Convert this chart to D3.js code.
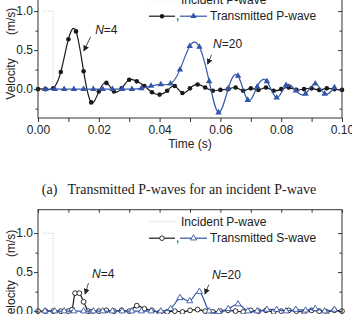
<!DOCTYPE html>
<html>
<head>
<meta charset="utf-8">
<script src="https://cdn.jsdelivr.net/npm/d3@7"></script>
<style>
body { margin: 0; background: #fff; }
svg { display: block; }
text { font-family: "Liberation Sans", Arial, sans-serif; fill: #222; }
</style>
</head>
<body>
<div id="chart"></div>
<script>
// ---- data ----
var xTicks = [0, 0.02, 0.04, 0.06, 0.08, 0.10];
var xMinor = [0.01, 0.03, 0.05, 0.07, 0.09];
var yTicks = [0.0, 0.5, 1.0];
var yMinor = [-0.25, 0.25, 0.75];

var incidentT = [0.0017, 0.005, 0.005];
var incidentV = [1.0, 1.0, 0.0];

// (a) transmitted P-wave, N=4 (black) and N=20 (blue)
var pBlackT = [0, 0.0025, 0.005, 0.0075, 0.01, 0.0125, 0.015, 0.0175, 0.02, 0.0225,
               0.025, 0.0275, 0.03, 0.0325, 0.035, 0.0375, 0.04, 0.0425, 0.045, 0.0475,
               0.05, 0.0525, 0.055, 0.0575, 0.06, 0.0625, 0.065, 0.0675, 0.07, 0.0725,
               0.075, 0.0775, 0.08, 0.0825, 0.085, 0.0875, 0.09, 0.0925, 0.095, 0.0975, 0.1];
var pBlackV = [0, 0, 0.01, 0.22, 0.64, 0.74, 0.23, -0.17, -0.03, 0.08,
               -0.03, 0.01, 0.12, 0.10, 0.04, -0.04, -0.07, -0.02, 0.04, -0.05,
               0.01, 0.06, 0.02, -0.02, -0.01, 0.0, 0.02, -0.02, 0.01, -0.01,
               0.02, -0.02, 0.0, 0.02, -0.01, 0.0, 0.01, -0.01, 0.01, 0.0, -0.01];

var pBlueT = [0.0023, 0.0055, 0.0086, 0.0118, 0.0150, 0.0182, 0.0213, 0.0245, 0.0277, 0.0309,
              0.0340, 0.0372, 0.0404, 0.0436, 0.0467, 0.0499, 0.0531, 0.0563, 0.0594, 0.0626,
              0.0658, 0.0690, 0.0721, 0.0753, 0.0785, 0.0816, 0.0848, 0.0880, 0.0912, 0.0943, 0.0975];
var pBlueV = [0, 0, 0, 0, 0, 0, 0, 0, 0, 0,
              0.01, 0.04, 0.06, 0.07, 0.25, 0.55, 0.54, 0.10, -0.30, 0.01,
              0.17, -0.14, 0.03, 0.10, -0.11, 0.05, -0.02, -0.06, 0.07, -0.06, 0.02];

// (b) transmitted S-wave
var sBlackT = [0, 0.0025, 0.005, 0.0075, 0.01, 0.0112, 0.0122, 0.0136, 0.015, 0.0165,
               0.0175, 0.02, 0.0225, 0.025, 0.0275, 0.03, 0.0325, 0.035, 0.0375, 0.04,
               0.0425, 0.045, 0.0475, 0.05, 0.0525, 0.055, 0.0575, 0.06, 0.0625, 0.065,
               0.0675, 0.07, 0.0725, 0.075, 0.0775, 0.08, 0.0825, 0.085, 0.0875, 0.09,
               0.0925, 0.095, 0.0975, 0.1];
var sBlackV = [0, 0, 0, 0, 0, 0.02, 0.23, 0.23, 0.12, 0.0,
               -0.01, 0, 0.01, 0.0, 0.01, 0.0, 0.07, 0.03, 0.01, -0.02,
               -0.01, 0.0, -0.01, 0.01, 0.02, 0.0, -0.01, 0.0, 0.01, 0.0,
               -0.01, 0.01, 0.0, 0.01, -0.01, 0.0, 0.01, 0.0, -0.01, 0.01,
               0.0, -0.01, 0.01, 0.0];

var sBlueT = pBlueT;
var sBlueV = [0, 0, 0, 0, 0, 0, 0, 0, 0, 0,
              0, 0, 0, 0.03, 0.17, 0.13, 0.25, 0.0, -0.01, 0.03,
              0.09, 0.0, 0.0, 0.02, 0.02, 0.0, 0.02, 0.01, 0.03, 0.0, 0.02];

var blue = "#3456a8";
var dark = "#1a1a1a";

var svg = d3.select("#chart").append("svg")
    .attr("width", 352)
    .attr("height", 314);

var defs = svg.append("defs");
defs.append("marker")
    .attr("id", "arrow")
    .attr("viewBox", "0 0 8 8")
    .attr("refX", 7).attr("refY", 4)
    .attr("markerWidth", 6).attr("markerHeight", 6)
    .attr("markerUnits", "userSpaceOnUse")
    .attr("orient", "auto")
  .append("path")
    .attr("d", "M0,0L8,4L0,8z")
    .attr("fill", "#222");

var x = d3.scaleLinear().domain([0, 0.1]).range([38, 342]);

function zip(t, v) { return t.map(function(d, i) { return [d, v[i]]; }); }

function panel(top, blackT, blackV, blueT, blueV, openMarkers, curve, legendText, notes) {
  var y = d3.scaleLinear().domain([-0.37, 1.3]).range([top + 130.3, top]);
  var g = svg.append("g");

  // incident pulse (dotted)
  var line = d3.line()
    .x(function(d) { return x(d[0]); })
    .y(function(d) { return y(d[1]); });
  g.append("path")
    .datum(zip(incidentT, incidentV))
    .attr("fill", "none")
    .attr("stroke", "#c4c4c4")
    .attr("stroke-width", 1)
    .attr("stroke-dasharray", "1,1.5")
    .attr("d", line);

  var smooth = d3.line()
    .x(function(d) { return x(d[0]); })
    .y(function(d) { return y(d[1]); })
    .curve(curve);

  var bk = zip(blackT, blackV), bl = zip(blueT, blueV);

  g.append("path").datum(bk)
    .attr("fill", "none").attr("stroke", dark).attr("stroke-width", 1.2)
    .attr("d", smooth);
  g.selectAll(".bdot").data(bk).enter().append("circle")
    .attr("cx", function(d) { return x(d[0]); })
    .attr("cy", function(d) { return y(d[1]); })
    .attr("r", openMarkers ? 2.4 : 2.3)
    .attr("fill", openMarkers ? "#fff" : dark)
    .attr("stroke", dark).attr("stroke-width", openMarkers ? 0.9 : 0);

  g.append("path").datum(bl)
    .attr("fill", "none").attr("stroke", blue).attr("stroke-width", 1.2)
    .attr("d", smooth);
  var tri = d3.symbol().type(d3.symbolTriangle).size(openMarkers ? 16 : 18);
  g.selectAll(".tri").data(bl).enter().append("path")
    .attr("d", tri)
    .attr("transform", function(d) { return "translate(" + x(d[0]) + "," + y(d[1]) + ")"; })
    .attr("fill", openMarkers ? "#fff" : blue)
    .attr("stroke", blue).attr("stroke-width", openMarkers ? 0.9 : 0);

  // frame
  g.append("rect")
    .attr("x", 38).attr("y", top)
    .attr("width", 304).attr("height", 130.3)
    .attr("fill", "none").attr("stroke", "#333").attr("stroke-width", 1);

  // axes
  var bottom = top + 130.3;
  g.append("g").attr("transform", "translate(0," + bottom + ")")
    .call(d3.axisBottom(x).tickValues(xTicks).tickSize(4).tickPadding(3).tickFormat(d3.format(".2f")));
  g.append("g").attr("transform", "translate(0," + bottom + ")")
    .call(d3.axisBottom(x).tickValues(xMinor).tickSize(4).tickFormat(""));
  g.append("g").attr("transform", "translate(0," + top + ")")
    .call(d3.axisBottom(x).tickValues(xTicks.concat(xMinor)).tickSize(3).tickFormat(""));
  g.append("g").attr("transform", "translate(38,0)")
    .call(d3.axisLeft(y).tickValues(yTicks).tickSize(4).tickPadding(1).tickFormat(d3.format(".1f")));
  g.append("g").attr("transform", "translate(38,0)")
    .call(d3.axisLeft(y).tickValues(yMinor).tickSize(2.5).tickFormat(""));
  g.append("g").attr("transform", "translate(342,0)")
    .call(d3.axisLeft(y).tickValues(yTicks).tickSize(4).tickFormat(""));
  g.append("g").attr("transform", "translate(342,0)")
    .call(d3.axisLeft(y).tickValues(yMinor).tickSize(2.5).tickFormat(""));
  g.selectAll(".domain").remove();
  g.selectAll(".tick line").attr("stroke", "#333");
  g.selectAll(".tick text").style("font-size", "12px").attr("fill", "#222")
    .style("font-family", "'Liberation Sans', Arial, sans-serif");

  // y label
  g.append("text")
    .attr("transform", "translate(15," + (top + 66) + ")rotate(-90)")
    .attr("text-anchor", "middle")
    .style("white-space", "pre")
    .style("font-size", "12px")
    .text("Velocity       (m/s)");

  // legend
  var l1 = top + 12, l2 = top + 28.5;
  g.append("line").attr("x1", 150).attr("x2", 177).attr("y1", l1).attr("y2", l1)
    .attr("stroke", "#c4c4c4").attr("stroke-dasharray", "1,1.5");
  g.append("text").attr("x", 181).attr("y", l1).attr("dy", "0.35em")
    .style("font-size", "12px").text("Incident P-wave");
  g.append("line").attr("x1", 149).attr("x2", 175).attr("y1", l2).attr("y2", l2)
    .attr("stroke", dark).attr("stroke-width", 1.2);
  g.append("circle").attr("cx", 162).attr("cy", l2).attr("r", 2.3)
    .attr("fill", openMarkers ? "#fff" : dark).attr("stroke", dark)
    .attr("stroke-width", openMarkers ? 0.9 : 0);
  g.append("text").attr("x", 176).attr("y", l2).attr("dy", "0.35em")
    .style("font-size", "12px").text(",");
  g.append("line").attr("x1", 180).attr("x2", 207).attr("y1", l2).attr("y2", l2)
    .attr("stroke", blue).attr("stroke-width", 1.2);
  g.append("path").attr("d", tri).attr("transform", "translate(193.5," + l2 + ")")
    .attr("fill", openMarkers ? "#fff" : blue).attr("stroke", blue)
    .attr("stroke-width", openMarkers ? 0.9 : 0);
  g.append("text").attr("x", 210).attr("y", l2).attr("dy", "0.35em")
    .style("font-size", "12px").text(legendText);

  // N annotations
  notes.forEach(function(n) {
    var t = g.append("text").attr("x", x(n.t)).attr("y", y(n.v)).style("font-size", "12px");
    t.append("tspan").style("font-style", "italic").text("N");
    t.append("tspan").text("=" + n.label);
    g.append("line")
      .attr("x1", x(n.a[0])).attr("y1", y(n.a[1]))
      .attr("x2", x(n.a[2])).attr("y2", y(n.a[3]))
      .attr("stroke", "#222").attr("stroke-width", 0.8)
      .attr("marker-end", "url(#arrow)");
  });
  return bottom;
}

panel(-12.3, pBlackT, pBlackV, pBlueT, pBlueV, false, d3.curveNatural, "Transmitted P-wave", [
  {label: "4", t: 0.0188, v: 0.705, a: [0.0173, 0.67, 0.0151, 0.49]},
  {label: "20", t: 0.0576, v: 0.53, a: [0.0571, 0.44, 0.0558, 0.32]}
]);

svg.append("text")
  .attr("x", 38 + 152).attr("y", 148)
  .attr("text-anchor", "middle")
  .style("font-size", "12px")
  .text("Time (s)");

svg.append("text")
  .attr("x", 179).attr("y", 194)
  .attr("text-anchor", "middle")
  .style("font-family", "'Liberation Serif', 'Times New Roman', serif")
  .style("font-size", "14px")
  .style("white-space", "pre")
  .text("(a)   Transmitted P-waves for an incident P-wave");

panel(209.7, sBlackT, sBlackV, sBlueT, sBlueV, true, d3.curveCardinal.tension(0), "Transmitted S-wave", [
  {label: "4", t: 0.0178, v: 0.42, a: [0.0166, 0.36, 0.0155, 0.22]},
  {label: "20", t: 0.0572, v: 0.41, a: [0.0562, 0.34, 0.0549, 0.22]}
]);
</script>
</body>
</html>
